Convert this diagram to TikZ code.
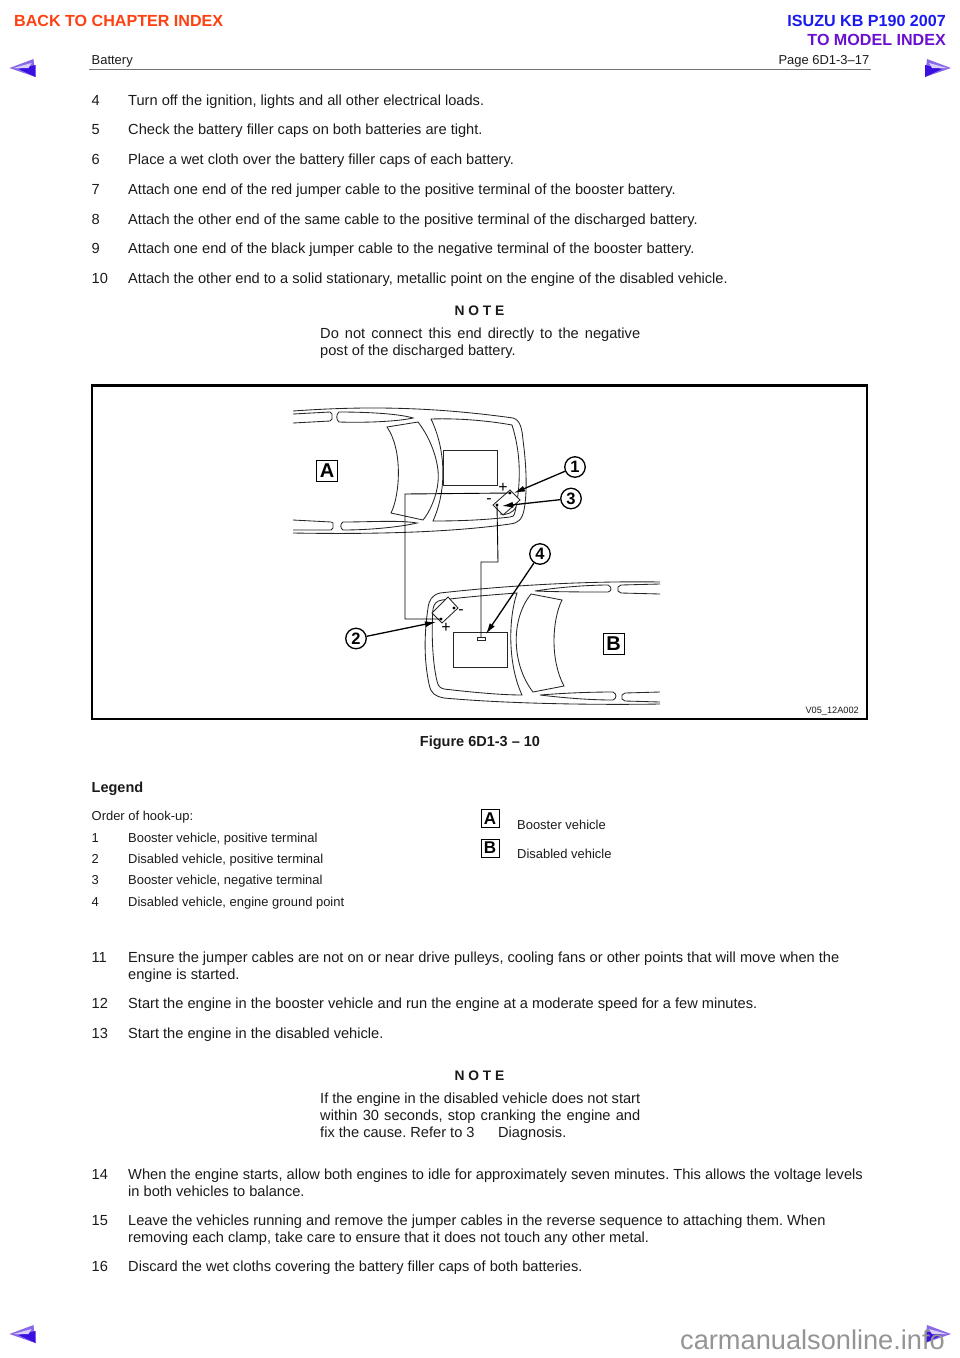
\documentclass[tikz,border=0pt]{standalone}
\usepackage{fontspec}
\setmainfont{Liberation Sans}
\usetikzlibrary{arrows.meta}
\frenchspacing
\definecolor{inktext}{HTML}{1A1A1A}
\definecolor{backorange}{HTML}{FF4010}
\definecolor{isuzublue}{HTML}{1A1AF0}
\definecolor{modelpurple}{HTML}{6A10D0}
\definecolor{navlight}{HTML}{8A68E8}
\definecolor{navdark}{HTML}{3A10E0}
\definecolor{navpale}{HTML}{D8D0F8}
\tikzset{
  bodytext/.style={anchor=base west,inner sep=0pt,text=inktext,font=\fontsize{14.62}{17}\selectfont},
  smalltext/.style={anchor=base west,inner sep=0pt,text=inktext,font=\fontsize{12.95}{16}\selectfont},
  notetitle/.style={anchor=base,inner sep=0pt,text=inktext,font=\fontsize{14.5}{17}\selectfont\bfseries},
  carline/.style={draw=black!85,line width=.85pt},
  cable/.style={draw=black,line width=.9pt},
  callout/.style={draw=black,circle,line width=1.3pt,minimum size=20.5pt,inner sep=0pt,fill=white,font=\fontsize{16.5}{16}\selectfont\bfseries},
  letterbox/.style={draw=black,line width=1pt,minimum width=21pt,minimum height=21pt,inner sep=0pt,font=\fontsize{20}{20}\selectfont\bfseries},
  pointer/.style={-{Latex[length=11pt,width=6pt]},line width=1.3pt},
  navicon/.pic={
    \fill[navlight] (-13,0) -- (11,-9) -- (13,9) -- cycle;
    \fill[navdark] (-4,1) -- (13,-3) -- (13,9) -- cycle;
    \fill[navpale] (-9,0) -- (9,-5) -- (6,0) -- cycle;
  }
}
\begin{document}
\begin{tikzpicture}[x=1pt,y=-1pt]
\useasboundingbox (0,0) rectangle (960,1358);
% page header
\node[anchor=base west,inner sep=0pt,text=backorange,font=\fontsize{16.1}{16}\selectfont\bfseries] (backindex) at (14,26) {BACK TO CHAPTER INDEX};
\node[anchor=base east,inner sep=0pt,text=isuzublue,font=\fontsize{16.1}{16}\selectfont\bfseries] (modelname) at (946,26) {ISUZU KB P190 2007};
\node[anchor=base east,inner sep=0pt,text=modelpurple,font=\fontsize{16.1}{16}\selectfont\bfseries] (modelindex) at (946,45) {TO MODEL INDEX};
\node[smalltext] (section) at (91.5,64) {Battery};
\node[smalltext,anchor=base east] (pagenum) at (869.5,64) {Page 6D1-3--17};
\draw[draw=black!55,line width=1pt] (89,69) -- (871,69);
% arrows in the page corners
\foreach \y in {68,1334} {
  \pic at (22.5,\y) {navicon};
  \pic[xscale=-1] at (938,\y) {navicon};
}
% numbered steps
\foreach \n/\y/\txt in {4/105/{Turn off the ignition, lights and all other electrical loads.},
  5/134/{Check the battery filler caps on both batteries are tight.},
  6/164/{Place a wet cloth over the battery filler caps of each battery.},
  7/194/{Attach one end of the red jumper cable to the positive terminal of the booster battery.},
  8/224/{Attach the other end of the same cable to the positive terminal of the discharged battery.},
  9/253/{Attach one end of the black jumper cable to the negative terminal of the booster battery.},
  10/283/{Attach the other end to a solid stationary, metallic point on the engine of the disabled vehicle.},
  11/962/{Ensure the jumper cables are not on or near drive pulleys, cooling fans or other points that will move when the},
  12/1008/{Start the engine in the booster vehicle and run the engine at a moderate speed for a few minutes.},
  13/1038/{Start the engine in the disabled vehicle.},
  14/1179/{When the engine starts, allow both engines to idle for approximately seven minutes. This allows the voltage levels},
  15/1225/{Leave the vehicles running and remove the jumper cables in the reverse sequence to attaching them. When},
  16/1271/{Discard the wet cloths covering the battery filler caps of both batteries.}} {
  \node[bodytext] (num\n) at (91.5,\y) {\n};
  \node[bodytext] (step\n) at (128,\y) {\txt};
}
\node[bodytext] (step11b) at (128,979) {engine is started.};
\node[bodytext] (step14b) at (128,1196) {in both vehicles to balance.};
\node[bodytext] (step15b) at (128,1242) {removing each clamp, take care to ensure that it does not touch any other metal.};
% notes
\node[notetitle,font=\fontsize{13.8}{17}\selectfont\bfseries] (notea) at (479.5,315) {N O T E};
\node[bodytext] (notea1) at (320,338) {\makebox[320pt][s]{Do not connect this end directly to the negative}};
\node[bodytext] (notea2) at (320,355) {post of the discharged battery.};
\node[notetitle,font=\fontsize{13.8}{17}\selectfont\bfseries] (noteb) at (479.5,1080) {N O T E};
\node[bodytext] (noteb1) at (320,1103) {\makebox[320pt][s]{If the engine in the disabled vehicle does not start}};
\node[bodytext] (noteb2) at (320,1120) {\makebox[320pt][s]{within 30 seconds, stop cranking the engine and}};
\node[bodytext] (noteb3) at (320,1137) {fix the cause. Refer to 3\hspace{23.5pt}Diagnosis.};
% figure frame
\draw[black,line width=2.4pt] (92,385.5) rectangle (867,719);
% car A
\draw[carline] (293,411) .. controls (350,407) and (420,405) .. (513,418) .. controls (520,420) and (522,428) .. (523,440) .. controls (527,470) and (527,495) .. (524,510) .. controls (522,520) and (518,523) .. (510,524) .. controls (440,534) and (350,534) .. (293,533);
\draw[carline] (293,414) -- (330,412) -- (332,414) -- (332,419) -- (330,421) -- (293,423);
\draw[carline] (339,412) .. controls (370,412) and (400,414) .. (413,418) .. controls (400,421) and (370,423) .. (339,422) .. controls (336,420) and (336,414) .. (339,412) -- cycle;
\draw[carline] (387,427) -- (418,422) .. controls (432,440) and (440,465) .. (438,482) .. controls (437,495) and (430,512) .. (423,520) -- (391,513) .. controls (400,495) and (403,450) .. (387,427) -- cycle;
\draw[carline] (431,419) .. controls (460,418) and (490,421) .. (512,425) .. controls (520,450) and (522,480) .. (515,512) .. controls (514,516) and (513,517) .. (510,517) .. controls (485,520) and (460,521) .. (433,521) .. controls (447,490) and (446,450) .. (431,419) -- cycle;
\draw[carline] (443,450) rectangle (497,485);
\draw[carline] (293,520) -- (331,522) -- (333,523) -- (333,528) -- (331,530) -- (293,530);
\draw[carline] (343,522) .. controls (370,522) and (400,520) .. (417,523) .. controls (400,527) and (370,530) .. (343,530) .. controls (340,528) and (340,524) .. (343,522) -- cycle;
% car B
\draw[carline] (660,582) .. controls (600,581) and (520,584) .. (440,593) .. controls (432,595) and (429,600) .. (428,608) .. controls (424,635) and (424,660) .. (429,684) .. controls (431,694) and (435,696) .. (444,698) .. controls (510,704) and (600,705) .. (660,704);
\draw[carline] (517,593) .. controls (490,595) and (465,597) .. (442,600) .. controls (436,601) and (434,604) .. (433,609) .. controls (431,635) and (433,665) .. (437,681) .. controls (438,686) and (440,688) .. (444,689) .. controls (470,692) and (500,695) .. (522,695) .. controls (508,665) and (508,620) .. (517,593) -- cycle;
\draw[carline] (531,594) -- (562,600) .. controls (552,620) and (550,660) .. (564,686) -- (533,692) .. controls (512,665) and (510,620) .. (531,594) -- cycle;
\draw[carline] (453,632) rectangle (507,667);
\draw[carline] (535,591) .. controls (560,587) and (590,585) .. (608,585) .. controls (612,587) and (612,591) .. (608,592) .. controls (590,592) and (560,592) .. (535,591) -- cycle;
\draw[carline] (660,584) -- (621,585) -- (618,587) -- (618,591) -- (621,593) -- (660,594);
\draw[carline] (540,695) .. controls (565,693) and (590,692) .. (613,692) .. controls (617,694) and (617,698) .. (613,700) .. controls (590,700) and (565,698) .. (540,695) -- cycle;
\draw[carline] (660,692) -- (625,693) -- (622,695) -- (622,699) -- (625,701) -- (660,702);
% batteries
\draw[carline,fill=white] (510,490) -- (520,500) -- (503,515) -- (493,505) -- cycle;
\draw[carline] (500,514) .. controls (506,516) and (514,512) .. (516,507);
\draw[carline,fill=white] (448,597) -- (458,608) -- (442,623) -- (432,613) -- cycle;
\coordinate (boosterpos) at (510,493);
\coordinate (boosterneg) at (497,505);
\coordinate (disabledpos) at (441,619);
\coordinate (disabledneg) at (454,608);
\coordinate (groundpoint) at (481,637);
\foreach \c in {boosterpos,boosterneg,disabledpos,disabledneg} \fill[black] (\c) circle (1.6);
\node[inner sep=0pt,font=\fontsize{16}{16}\selectfont] (plusa) at (503,488) {+};
\node[inner sep=0pt,font=\fontsize{16}{16}\selectfont] (minusa) at (489,501) {-};
\node[inner sep=0pt,font=\fontsize{16}{16}\selectfont] (plusb) at (446,628) {+};
\node[inner sep=0pt,font=\fontsize{16}{16}\selectfont] (minusb) at (461,612) {-};
% jumper cables
\coordinate (cornera) at (405,494);
\coordinate (cornerb) at (405,619);
\coordinate (cornerc) at (498,562);
\coordinate (cornerd) at (481,562);
\draw[cable] (boosterpos) -- (cornera) -- (cornerb) -- (disabledpos);
\draw[cable] (boosterneg) -- (cornerc) -- (cornerd) -- (groundpoint);
\draw[carline,fill=white] (477,637) rectangle (485,640.5);
% labels on the figure
\node[letterbox] (boxa) at (327,471) {A};
\node[letterbox] (boxb) at (613.5,644) {B};
\node[callout] (call1) at (575,467) {1};
\node[callout] (call2) at (356,638.5) {2};
\node[callout] (call3) at (571,498.5) {3};
\node[callout] (call4) at (540,554) {4};
\coordinate (tip1) at (514,493);
\coordinate (tip2) at (436,622);
\coordinate (tip3) at (502,506);
\coordinate (tip4) at (486,634);
\foreach \c/\t in {call1/tip1,call2/tip2,call3/tip3,call4/tip4} \draw[pointer] (\c) -- (\t);
\node[anchor=base east,inner sep=0pt,text=inktext,font=\fontsize{9.2}{10}\selectfont] (figcode) at (859,713) {V05\_12A002};
\node[notetitle] (figcaption) at (480,746) {Figure 6D1-3 -- 10};
% legend
\node[bodytext,font=\fontsize{14.5}{17}\selectfont\bfseries] (legendhead) at (91.5,792) {Legend};
\node[smalltext] (legendorder) at (91.5,820) {Order of hook-up:};
\foreach \n/\y/\txt in {1/842/{Booster vehicle, positive terminal},
  2/863/{Disabled vehicle, positive terminal},
  3/884/{Booster vehicle, negative terminal},
  4/906/{Disabled vehicle, engine ground point}} {
  \node[smalltext] (legnum\n) at (91.5,\y) {\n};
  \node[smalltext] (legtext\n) at (128,\y) {\txt};
}
\node[letterbox,minimum width=18pt,minimum height=18pt,font=\fontsize{17}{17}\selectfont\bfseries] (legboxa) at (490,818.5) {A};
\node[letterbox,minimum width=18pt,minimum height=18pt,font=\fontsize{17}{17}\selectfont\bfseries] (legboxb) at (490,848) {B};
\node[smalltext] (legvehiclea) at (517,829) {Booster vehicle};
\node[smalltext] (legvehicleb) at (517,858) {Disabled vehicle};
% footer
\node[anchor=base west,inner sep=0pt,text=black!42,font=\fontsize{27.2}{27}\selectfont] (watermark) at (680,1349) {carmanualsonline.info};
\end{tikzpicture}
\end{document}
